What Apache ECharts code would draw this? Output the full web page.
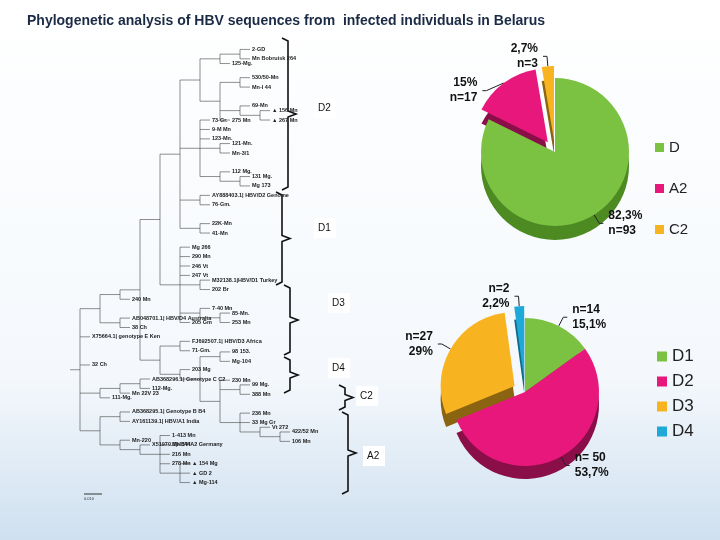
<!DOCTYPE html>
<html><head><meta charset="utf-8">
<script src="https://cdn.jsdelivr.net/npm/echarts@6/dist/echarts.min.js"></script>
<style>html,body{margin:0;padding:0}#c{width:720px;height:540px}</style>
</head><body><div id="c"></div>
<script>
// ---- data ----
const titleText = 'Phylogenetic analysis of HBV sequences from  infected individuals in Belarus';
const genoNames = ['D', 'A2', 'C2'];
const genoCounts = [93, 17, 3];
const genoLabels = ['82,3%\nn=93', '15%\nn=17', '2,7%\nn=3'];
const subNames = ['D1', 'D2', 'D3', 'D4'];
const subCounts = [14, 50, 27, 2];
const subLabels = ['n=14\n15,1%', 'n= 50\n53,7%', 'n=27\n29%', 'n=2\n2,2%'];
const cladeD2 = ['2-GD','Mn Bobruisk 264','125-Mg.','530/50-Mn','Mn-I 44','69-Mn','▲ 156 Mn','▲ 267 Mn','275 Mn','73-Gr.','9-M Mn','123-Mn.','121-Mn.','Mn-3/1','112 Mg.','131 Mg.','Mg 173','AY888403.1| HBV/D2 Genome','76-Gm.','22K-Mn','41-Mn'];
const cladeD1 = ['Mg 266','290 Mn','246 Vt','247 Vt','M32138.1|HBV/D1 Turkey','202 Br','7-40 Mn','85-Mn.','253 Mn','205 Gm'];
const cladeD3 = ['FJ692507.1| HBV/D3 Africa','71-Gm.','203 Mg','98 153.','Mg-104','230 Mn','99 Mg.','388 Mn','236 Mn','33 Mg Gr','Vt 272','422/52 Mn','106 Mn','240 Mn'];
const cladeD4 = ['AB048701.1| HBV/D4 Australia','38 Ch','X75664.1| genotype E Ken','32 Ch'];
const cladeC2 = ['AB368296.1| Genotype C C2','112-Mg.','Mn 22V 23','111-Mg.'];
const cladeA2 = ['AB368295.1| Genotype B B4','AY161139.1| HBV/A1 India','Mn-220','X51970.1|HBV/A2 Germany','1-413 Mn','Mn 144','216 Mn','278 Mn','▲ 154 Mg','▲ GD 2','▲ Mg-114'];

// ---- tree structure built from arrays ----
const L = n => ({name: n});
const N = (...c) => ({name: '', children: c});
const a = cladeD2.map(L), b = cladeD1.map(L), d = cladeD3.map(L), e = cladeD4.map(L), f = cladeC2.map(L), g = cladeA2.map(L);
const D2 = N(N(N(N(a[0], a[1]), a[2]), N(N(a[3], a[4]), N(a[5], N(a[6], a[7])), a[8])),
  N(a[9], a[10], a[11], N(a[12], a[13]), N(a[14], N(a[15], a[16]))), N(a[17], a[18]), N(a[19], a[20]));
const D1 = N(b[0], b[1], b[2], b[3], N(b[4], b[5]), N(b[6], N(b[7], b[8])), b[9]);
const D3 = N(N(d[0], d[1]), N(d[2], N(N(d[3], d[4]), N(d[5], N(d[6], d[7]), N(d[8], d[9], N(d[10], N(d[11], d[12])))))));
const root = N(
  N(N(N(N(D2, D1), D3), d[13]), N(e[0], e[1])),
  e[2], e[3],
  N(N(N(f[0], f[1]), f[2]), f[3]),
  N(N(g[0], g[1]), N(g[2], N(g[3], N(g[4], g[5], g[6], g[7], N(g[8], g[9], g[10])))))
);

const chart = echarts.init(document.getElementById('c'));
const bold = {fontFamily: 'Liberation Sans', fontWeight: 'bold', color: '#111'};
function bracket(x, y1, y2, lx, ly, txt, w) {
  const m = (y1 + y2) / 2;
  return [
    {type: 'polyline', shape: {points: [[x - 6, y1], [x, y1 + 3], [x, m - 3], [x + 8, m], [x, m + 3], [x, y2 - 3], [x - 6, y2]]}, style: {stroke: '#111', lineWidth: 1.6, fill: null}},
    {type: 'rect', shape: {x: lx - 4, y: ly - 10, width: w, height: 20}, style: {fill: '#fff'}},
    {type: 'text', x: lx, y: ly, style: {text: txt, font: '10px Liberation Sans', fill: '#111', textVerticalAlign: 'middle'}}
  ];
}
function pieSeries(center, names, vals, labels, colors, selIdx, dark, z) {
  return {
    type: 'pie', center: center, radius: 74, startAngle: 90, clockwise: true, z: z,
    selectedMode: 'multiple', selectedOffset: 12, silent: true, animation: false,
    label: {show: !dark, position: 'outside', formatter: p => labels[p.dataIndex], fontSize: 12, lineHeight: 15, ...bold},
    labelLine: {show: !dark, length: 10, length2: 4, lineStyle: {color: '#222'}},
    data: names.map((n, i) => ({name: n, value: vals[i], selected: i >= selIdx,
      itemStyle: {color: dark ? colors[i].d : colors[i].c}}))
  };
}
const gc = [{c: '#7cc242', d: '#4d8a22'}, {c: '#e8177c', d: '#8a0e48'}, {c: '#f8b420', d: '#8a6410'}];
const sc = [{c: '#7cc242', d: '#4d8a22'}, {c: '#e8177c', d: '#8a0e48'}, {c: '#f8b420', d: '#8a6410'}, {c: '#1fa9d8', d: '#0e6a8a'}];

chart.setOption({
  backgroundColor: {type: 'linear', x: 0, y: 0, x2: 0, y2: 1, colorStops: [{offset: 0, color: '#ffffff'}, {offset: 0.7, color: '#f4f8fc'}, {offset: 1, color: '#cfe0f0'}]},
  title: {text: titleText, left: 22, top: 9, textStyle: {fontSize: 14, fontFamily: 'Liberation Sans', fontWeight: 'bold', color: '#1b2a45'}},
  legend: [
    {data: genoNames, orient: 'vertical', left: 650, top: 135, itemGap: 26, itemWidth: 9, itemHeight: 9, icon: 'rect', textStyle: {fontSize: 15, color: '#222', fontFamily: 'Liberation Sans'}},
    {data: subNames, orient: 'vertical', left: 652, top: 343, itemGap: 8, itemWidth: 10, itemHeight: 10, icon: 'rect', textStyle: {fontSize: 17, color: '#222', fontFamily: 'Liberation Sans'}}
  ],
  graphic: [
    ...bracket(288, 38, 190, 318, 108, 'D2', 22),
    ...bracket(282, 192, 285, 318, 228, 'D1', 22),
    ...bracket(290, 285, 355, 332, 303, 'D3', 22),
    ...bracket(290, 357, 393, 332, 368, 'D4', 22),
    ...bracket(345, 385, 410, 360, 396, 'C2', 22),
    ...bracket(348, 412, 494, 367, 456, 'A2', 22),
    {type: 'line', shape: {x1: 84, y1: 494, x2: 102, y2: 494}, style: {stroke: '#333', lineWidth: 1}},
    {type: 'text', x: 84, y: 497, style: {text: '0.010', font: '4px Liberation Sans', fill: '#333'}}
  ],
  series: [
    {
      type: 'tree', data: [root], orient: 'LR', layout: 'orthogonal', edgeShape: 'polyline',
      left: 70, top: 40, bottom: 48, right: 430, symbol: 'none', roam: false, expandAndCollapse: false,
      initialTreeDepth: -1, animation: false,
      lineStyle: {color: '#444', width: 0.6, curveness: 0},
      label: {show: false},
      leaves: {label: {show: true, position: 'right', distance: 2, fontSize: 5.5, color: '#222', fontFamily: 'Liberation Sans', fontWeight: 'bold'}}
    },
    pieSeries(['555', '152'], genoNames, genoCounts, genoLabels, gc, 1, false, 3),
    pieSeries(['555', '166'], genoNames, genoCounts, genoLabels, gc, 1, true, 2),
    pieSeries(['525', '392'], subNames, subCounts, subLabels, sc, 2, false, 3),
    pieSeries(['525', '405'], subNames, subCounts, subLabels, sc, 2, true, 2)
  ]
});
</script></body></html>
